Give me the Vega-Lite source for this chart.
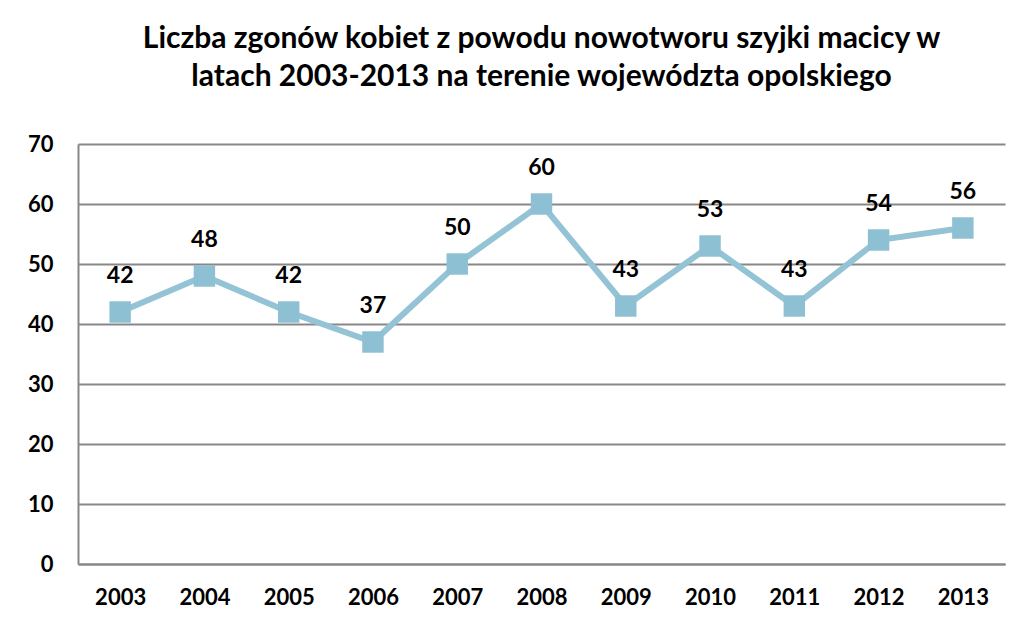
{
  "$schema": "https://vega.github.io/schema/vega-lite/v6.json",
  "width": 927,
  "height": 420,
  "autosize": {"type": "none"},
  "padding": {"left": 78, "top": 144, "right": 14, "bottom": 61},
  "background": "white",
  "title": {
    "text": ["Liczba zgonów kobiet z powodu nowotworu szyjki macicy w", "latach 2003-2013 na terenie województa opolskiego"],
    "font": "Lato",
    "fontSize": 30,
    "fontWeight": "bold",
    "color": "#000000",
    "lineHeight": 38,
    "anchor": "middle",
    "offset": 41
  },
  "data": {
    "values": [
      {"year": "2003", "value": 42},
      {"year": "2004", "value": 48},
      {"year": "2005", "value": 42},
      {"year": "2006", "value": 37},
      {"year": "2007", "value": 50},
      {"year": "2008", "value": 60},
      {"year": "2009", "value": 43},
      {"year": "2010", "value": 53},
      {"year": "2011", "value": 43},
      {"year": "2012", "value": 54},
      {"year": "2013", "value": 56}
    ]
  },
  "encoding": {
    "x": {
      "field": "year",
      "type": "ordinal",
      "title": null,
      "axis": {
        "labelAngle": 0,
        "labelFont": "Lato",
        "labelFontSize": 22,
        "labelFontWeight": "bold",
        "labelColor": "#000000",
        "labelPadding": 23,
        "ticks": false,
        "domainColor": "#888888",
        "domainWidth": 2,
        "grid": false
      }
    },
    "y": {
      "field": "value",
      "type": "quantitative",
      "title": null,
      "scale": {"domain": [0, 70]},
      "axis": {
        "values": [0, 10, 20, 30, 40, 50, 60, 70],
        "labelFont": "Lato",
        "labelFontSize": 22,
        "labelFontWeight": "bold",
        "labelColor": "#000000",
        "labelPadding": 25,
        "ticks": false,
        "domainColor": "#888888",
        "domainWidth": 2,
        "gridColor": "#888888",
        "gridWidth": 2
      }
    }
  },
  "layer": [
    {
      "mark": {"type": "line", "color": "#93C3D5", "strokeWidth": 6}
    },
    {
      "mark": {"type": "point", "shape": "square", "filled": true, "size": 460, "color": "#8EC0D3", "opacity": 1}
    },
    {
      "mark": {"type": "text", "dy": -36, "font": "Lato", "fontSize": 23, "fontWeight": "bold", "color": "#000000"},
      "encoding": {"text": {"field": "value", "type": "quantitative"}}
    }
  ],
  "config": {
    "view": {"stroke": null}
  }
}
